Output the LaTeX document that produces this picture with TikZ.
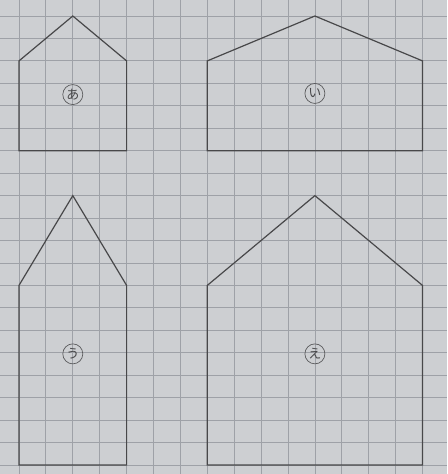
\documentclass[tikz,border=0pt]{standalone}
\usepackage{fontspec}
\newfontfamily\jpfont{Noto Sans CJK JP}
\definecolor{paper}{RGB}{205,207,210}
\definecolor{gridline}{RGB}{158,161,167}
\definecolor{penline}{RGB}{72,72,74}
\begin{document}
\begin{tikzpicture}[x=26.9pt,y=-22.45pt,
    house/.style={draw=penline,line width=1.2pt,line join=miter},
    tag/.style={circle,draw=penline!90,line width=.7pt,minimum size=20pt,inner sep=0pt,
      font=\jpfont\fontsize{13}{13}\selectfont,text=penline}]

      \fill[paper] (-0.7063,-0.7127) rectangle (15.911,20.401);
      \useasboundingbox (-0.7063,-0.7127) rectangle (15.911,20.401);

      % grid
      \begin{scope}[gridline,line width=.8pt]
        \foreach \c in {0,...,15}
          \draw (\c,-0.7127) -- (\c,20.401);
        \foreach \r in {0,...,20}
          \draw (-0.7063,\r) -- (15.911,\r);
      \end{scope}

      % houses
      \draw[house] (0,6) -- (0,2) -- (2,0) -- (4,2) -- (4,6) -- cycle;
      \draw[house] (7,6) -- (7,2) -- (11,0) -- (15,2) -- (15,6) -- cycle;
      \draw[house] (0,20) -- (0,12) -- (2,8) -- (4,12) -- (4,20) -- cycle;
      \draw[house] (7,20) -- (7,12) -- (11,8) -- (15,12) -- (15,20) -- cycle;

      \begin{scope}[every node/.style={tag}]
        \node (a) at (2,3.5) {あ};
        \node (i) at (11,3.45) {い};
        \node (u) at (2,15.05) {う};
        \node (e) at (11,15.05) {え};
      \end{scope}

    \end{tikzpicture}
\end{document}
